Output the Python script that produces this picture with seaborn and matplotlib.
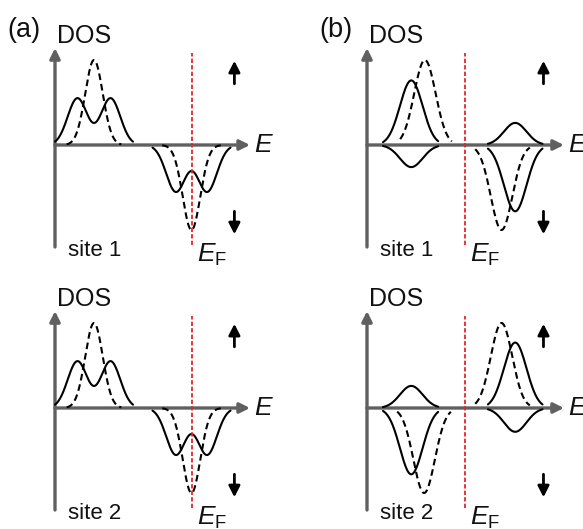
import numpy as np
import pandas as pd
import matplotlib
matplotlib.use("Agg")
import matplotlib.pyplot as plt
import seaborn as sns

# ---------------- data (read from the schematic) ----------------
panel_labels = ["(a)", "(b)"]
site_labels = ["site 1", "site 2"]
fermi_energy = [7.0, 5.0]          # E_F position for panel (a) / (b)

# Peaks: each curve is a sum of Gaussian peaks (centres), amplitude, width, energy span
# kind: 'solid' / 'dashed' curve family
a_kind = ["solid", "dashed", "solid", "dashed"]
a_centres = [[1.15, 2.85], [2.0], [6.2, 7.8], [7.0]]
a_amps = [0.55, 1.0, -0.55, -1.0]
a_widths = [0.5, 0.45, 0.5, 0.45]
a_spans = [(0.0, 4.0), (0.6, 3.4), (5.0, 9.0), (5.5, 8.5)]

b1_kind = ["solid", "dashed", "solid", "solid", "solid", "dashed"]
b1_centres = [[2.27], [2.97], [2.27], [7.6], [7.6], [6.9]]
b1_amps = [0.76, 1.0, -0.26, 0.26, -0.78, -1.0]
b1_widths = [0.58, 0.55, 0.58, 0.58, 0.58, 0.55]
b1_spans = [(0.82, 3.65), (1.7, 4.35), (0.82, 3.65), (6.2, 9.0), (6.2, 9.0), (5.55, 8.35)]

b2_kind = ["solid", "solid", "dashed", "dashed", "solid", "solid"]
b2_centres = [[2.27], [2.27], [2.93], [6.9], [7.6], [7.6]]
b2_amps = [0.26, -0.78, -1.0, 1.0, 0.77, -0.28]
b2_widths = [0.58, 0.58, 0.55, 0.55, 0.58, 0.58]
b2_spans = [(0.82, 3.65), (0.82, 3.65), (1.55, 4.3), (5.55, 8.35), (6.2, 9.0), (6.2, 9.0)]


def build(kind, centres, amps, widths, spans):
    frames = []
    for i, (k, cs, a, w, (e0, e1)) in enumerate(zip(kind, centres, amps, widths, spans)):
        e = np.linspace(e0, e1, 300)
        d = sum(a * np.exp(-(e - c) ** 2 / (2 * w ** 2)) for c in cs)
        frames.append(pd.DataFrame({"E": e, "DOS": d, "curve": i, "kind": k}))
    return pd.concat(frames, ignore_index=True)


panels = [
    (0, 0, build(a_kind, a_centres, a_amps, a_widths, a_spans)),
    (1, 0, build(b1_kind, b1_centres, b1_amps, b1_widths, b1_spans)),
    (0, 1, build(a_kind, a_centres, a_amps, a_widths, a_spans)),
    (1, 1, build(b2_kind, b2_centres, b2_amps, b2_widths, b2_spans)),
]

# ---------------- style / layout ----------------
sns.set_theme(style="white")
plt.rcParams["font.family"] = ["Liberation Sans", "DejaVu Sans"]
plt.rcParams["mathtext.fontset"] = "custom"
plt.rcParams["mathtext.rm"] = "Liberation Sans"
plt.rcParams["mathtext.it"] = "Liberation Sans:italic"

W_PX, H_PX = 583, 529
fig = plt.figure(figsize=(W_PX / 100, H_PX / 100), dpi=100)

PX_E, PX_D = 19.5, 85.0          # pixels per energy unit / per DOS unit
XLIM, YLIM = (-2.6, 11.0), (-1.42, 1.5)
origins = {(0, 0): (55, 145), (1, 0): (367, 145), (0, 1): (55, 408), (1, 1): (367, 408)}
AXIS_COL = "#606060"
TXT = "#111111"

for col, row, df in panels:
    ox, oy = origins[(col, row)]
    left = ox + XLIM[0] * PX_E
    width = (XLIM[1] - XLIM[0]) * PX_E
    top = oy - YLIM[1] * PX_D
    height = (YLIM[1] - YLIM[0]) * PX_D
    ax = fig.add_axes([left / W_PX, 1 - (top + height) / H_PX, width / W_PX, height / H_PX])
    ax.set_axis_off()

    x_tip = 10.0 if col == 0 else 10.1
    # axes with arrow heads
    ax.annotate("", xy=(x_tip, 0), xytext=(0, 0),
                arrowprops=dict(arrowstyle="-|>,head_length=0.6,head_width=0.3",
                                lw=2.4, color=AXIS_COL, mutation_scale=10,
                                shrinkA=0, shrinkB=0), zorder=2)
    ax.annotate("", xy=(0, 1.14), xytext=(0, -1.2),
                arrowprops=dict(arrowstyle="-|>,head_length=0.6,head_width=0.3",
                                lw=2.4, color=AXIS_COL, mutation_scale=10,
                                shrinkA=0, shrinkB=0), zorder=2)

    sns.lineplot(data=df, x="E", y="DOS", units="curve", estimator=None, sort=False,
                 style="kind", dashes={"solid": "", "dashed": (3.2, 1.9)},
                 color="black", lw=1.5, legend=False, ax=ax, zorder=3)
    ax.set_xlim(*XLIM)
    ax.set_ylim(*YLIM)

    ef = fermi_energy[col]
    ax.vlines(ef, -1.18, 1.08, colors="#e3262b", lw=1.3,
              linestyles=(0, (2.4, 1.2)), zorder=4)

    # spin arrows
    xs = 9.2 if col == 0 else 9.05
    ax.annotate("", xy=(xs, 0.99), xytext=(xs, 0.72),
                arrowprops=dict(arrowstyle="-|>,head_length=0.55,head_width=0.28",
                                lw=2.0, color="black", mutation_scale=12,
                                shrinkA=0, shrinkB=0))
    ax.annotate("", xy=(xs, -1.05), xytext=(xs, -0.78),
                arrowprops=dict(arrowstyle="-|>,head_length=0.55,head_width=0.28",
                                lw=2.0, color="black", mutation_scale=12,
                                shrinkA=0, shrinkB=0))

    # texts
    ax.text(0.08, 1.2, "DOS", fontsize=18, ha="left", va="baseline", color=TXT)
    ax.text(x_tip + 0.2, 0.0, "$E$", fontsize=19, ha="left", va="center", color=TXT)
    ax.text(ef + 0.27, -1.375, r"$E_\mathrm{F}$", fontsize=19, ha="left",
            va="baseline", color=TXT)
    ax.text(0.65, -1.31, site_labels[row], fontsize=16, ha="left",
            va="baseline", color=TXT)
    if row == 0:
        ax.text(-2.45, 1.27, panel_labels[col], fontsize=19.5, ha="left",
                va="baseline", color=TXT)

fig.savefig("out.png", dpi=100)
